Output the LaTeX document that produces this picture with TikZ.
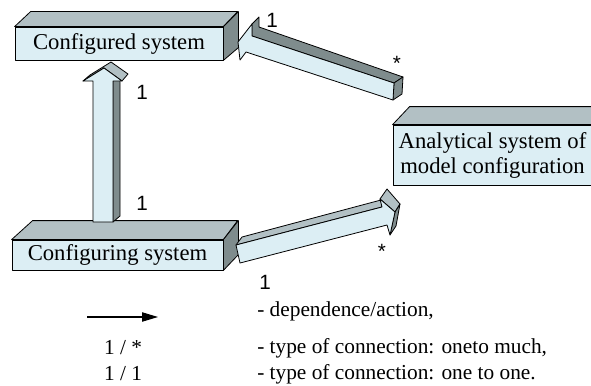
\documentclass[tikz,border=0pt]{standalone}
\usepackage{fontspec}
\setmainfont{Liberation Serif}
\newfontfamily\labelfont{Liberation Sans}
\usetikzlibrary{arrows.meta}
\definecolor{frontblue}{RGB}{220,238,244}
\definecolor{topgrey}{RGB}{178,192,196}
\definecolor{sidegrey}{RGB}{127,140,141}

\begin{document}
\begin{tikzpicture}[x=0.75pt,y=-0.75pt,
    facefront/.style={fill=frontblue,draw=black,line width=0.6pt,line join=round},
    facetop/.style={fill=topgrey,draw=black,line width=0.6pt,line join=round},
    faceside/.style={fill=sidegrey,draw=black,line width=0.6pt,line join=round},
    boxtext/.style={font=\fontsize{17}{18.75}\selectfont,inner sep=0pt},
    legendtext/.style={font=\fontsize{16}{18}\selectfont,anchor=west,inner sep=0pt},
    multiplicity/.style={font=\labelfont\fontsize{15.5}{17}\selectfont,inner sep=0pt}]
    	% frame
    	\useasboundingbox (0,0) rectangle (591,385);
    	\clip (0,0) rectangle (591,385);
    	% configured system
    	\node[facefront,boxtext,minimum width=156pt,minimum height=24.75pt] (configured) at (119,43.5) {Configured system};
    	\draw[facetop] (configured.north west) -- ++(16,-15) -- ++(207,0) -- (configured.north east) -- cycle;
    	\draw[faceside] (configured.north east) -- ++(15,-15) -- ++(0,36) -- (configured.south east) -- cycle;
    	% configuring system
    	\node[facefront,boxtext,minimum width=158.25pt,minimum height=22.5pt] (configuring) at (117.5,255) {Configuring system};
    	\draw[facetop] (configuring.north west) -- ++(21,-19) -- ++(205,0) -- (configuring.north east) -- cycle;
    	\draw[faceside] (configuring.north east) -- ++(15,-19) -- ++(0,34) -- (configuring.south east) -- cycle;
    	% analytical system
    	\node[facefront,boxtext,align=center,minimum width=149.25pt,minimum height=45pt] (analytical) at (492.5,155) {Analytical system of\\model configuration};
    	\draw[facetop] (analytical.north west) -- ++(17,-18) -- ++(199,0) -- (analytical.north east) -- cycle;
    	\draw[faceside] (analytical.north east) -- ++(17,-18) -- ++(0,50) -- (analytical.south east) -- cycle;
    	% configuring -> configured (upwards)
    	\draw[faceside] (113,222) -- (120,216) -- (120,75) -- (113,81) -- cycle;
    	\draw[facetop] (83,81) -- (90,75) -- (111,62) -- (128,74) -- (122,81) -- (104,68) -- cycle;
    	\draw[facefront] (93,222) -- (93,81) -- (83,81) -- (104,68) -- (122,81) -- (113,81) -- (113,222) -- cycle;
    	% analytical -> configured (leftwards)
    	\draw[faceside] (252,24) -- (259,17) -- (259,27) -- (403,77) -- (394,83) -- (252,36) -- cycle;
    	\draw[faceside] (394,83) -- (403,77) -- (402,94) -- (393,100) -- cycle;
    	\draw[facefront] (238,42) -- (252,24) -- (252,36) -- (394,83) -- (393,100) -- (246,52) -- (240,60) -- cycle;
    	% configuring -> analytical (rightwards)
    	\draw[facetop] (236,245) -- (242,237) -- (381,200) -- (382,207) -- cycle;
    	\draw[facetop] (380,199) -- (387,189) -- (400,204) -- (395,212) -- cycle;
    	\draw[faceside] (395,212) -- (400,204) -- (396,226) -- (390,235) -- cycle;
    	\draw[facefront] (236,245) -- (382,207) -- (380,199) -- (395,212) -- (390,235) -- (387,225) -- (240,263) -- cycle;
    	% multiplicities
    	\node[multiplicity] (oneUp) at (142,92) {1};
    	\node[multiplicity] (oneDown) at (142,203) {1};
    	\node[multiplicity] (oneLeft) at (272,20) {1};
    	\node[multiplicity] (manyLeft) at (397,63) {*};
    	\node[multiplicity] (oneRight) at (265,282) {1};
    	\node[multiplicity] (manyRight) at (382,251) {*};
    	% legend
    	\coordinate (legtail) at (87,317);
    	\coordinate (leghead) at (158,317);
    	\draw[line width=0.8pt,-{Triangle[length=12pt,width=7pt]}] (legtail) -- (leghead);
    	\node[legendtext] (legdep) at (257,311) {- dependence/action,};
    	\node[font=\fontsize{16}{18}\selectfont,inner sep=0pt] (legmany) at (123,348) {1 / *};
    	\node[legendtext] (legmanytext) at (257,348) {- type of connection: oneto much,};
    	\node[font=\fontsize{16}{18}\selectfont,inner sep=0pt] (legone) at (123,374) {1 / 1};
    	\node[legendtext] (legonetext) at (257,374) {- type of connection: one to one.};
\end{tikzpicture}
\end{document}
